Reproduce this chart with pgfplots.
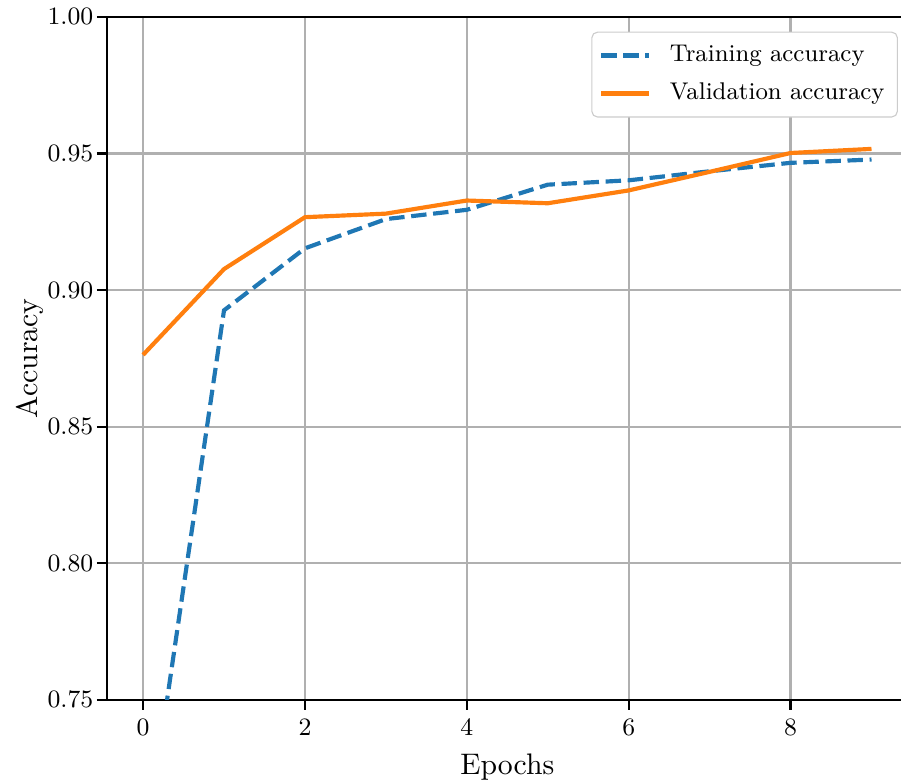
\documentclass[border=0pt]{standalone}
\usepackage{pgfplots}
\pgfplotsset{compat=1.18}
\definecolor{tabblue}{HTML}{1F77B4}
\definecolor{taborange}{HTML}{FF7F0E}
\definecolor{gridgray}{HTML}{B0B0B0}
\begin{document}
\begin{tikzpicture}
\begin{axis}[
  scale only axis,
  width=288.5pt, height=245.9pt,
  xmin=-0.45, xmax=9.45,
  ymin=0.75, ymax=1.00,
  xtick={0,2,4,6,8},
  ytick={0.75,0.80,0.85,0.90,0.95,1.00},
  yticklabel style={/pgf/number format/.cd, fixed, fixed zerofill, precision=2, /tikz/.cd, xshift=2.2pt},
  tick label style={font=\fontsize{8.9}{10.7}\selectfont},
  tick pos=left,
  tick align=outside,
  major tick length=3.5pt,
  every tick/.style={black, line width=0.8pt},
  axis line style={line width=0.8pt},
  grid=major,
  major grid style={gridgray, line width=0.8pt},
  xlabel={Epochs}, ylabel={Accuracy},
  label style={font=\fontsize{10.7}{12.8}\selectfont},
  x label style={at={(axis description cs:0.5,-0.0981)}, anchor=center},
  y label style={at={(axis description cs:-0.0957,0.5)}, anchor=center},
  legend style={at={(0.9875,0.9785)}, anchor=north east, draw=black!20, rounded corners=2pt,
    font=\fontsize{8.7}{10.4}\selectfont, inner xsep=2.6pt, inner ysep=2.7pt, row sep=2.2pt,
    cells={anchor=west}},
  legend image code/.code={\draw[#1] (0pt,0pt) -- (17.3pt,0pt); \path (22pt,0pt);},
]
\addplot[tabblue, line width=1.5pt, dash pattern=on 5.55pt off 2.4pt] coordinates {
(0,0.690) (1,0.8926) (2,0.9153) (3,0.9260) (4,0.9294) (5,0.9386) (6,0.9402) (7,0.9435) (8,0.9466) (9,0.9478)};
\addlegendentry{Training accuracy}
\addplot[taborange, line width=1.5pt] coordinates {
(0,0.8763) (1,0.9077) (2,0.9267) (3,0.9280) (4,0.9328) (5,0.9318) (6,0.9365) (7,0.9433) (8,0.9502) (9,0.9517)};
\addlegendentry{Validation accuracy}
\coordinate (SW) at (rel axis cs:0,0);
\coordinate (NE) at (rel axis cs:1,1);
\end{axis}
\pgfresetboundingbox
\path[use as bounding box] ([xshift=-38.4pt,yshift=-29.9pt]SW) rectangle ([xshift=-2.5pt,yshift=6.1pt]NE);
\end{tikzpicture}
\end{document}
